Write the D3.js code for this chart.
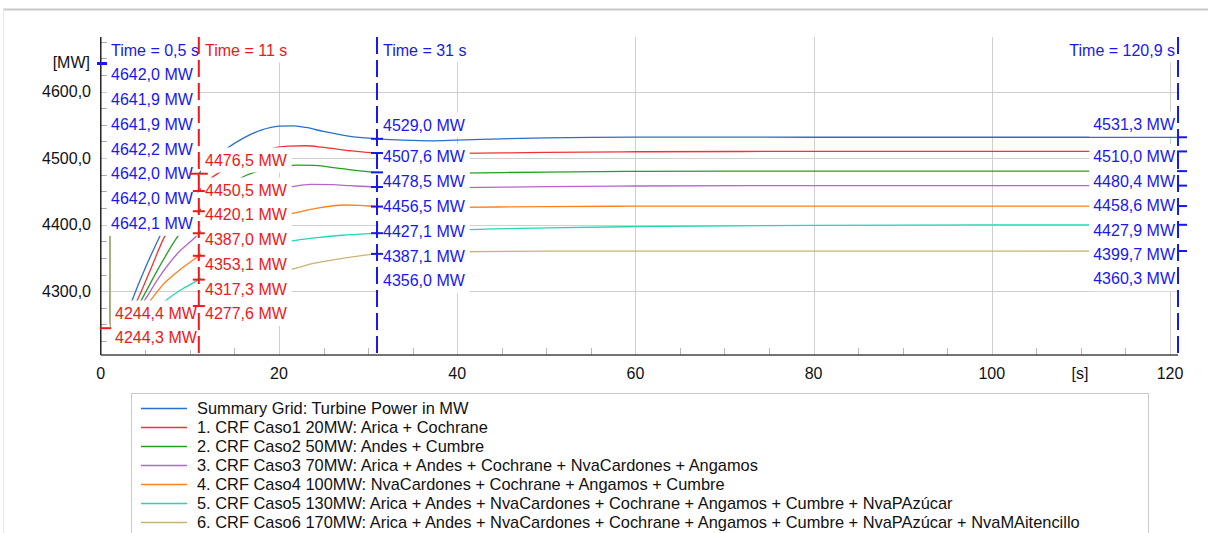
<!DOCTYPE html>
<html><head><meta charset="utf-8">
<script src="https://cdn.jsdelivr.net/npm/d3@7"></script>
<style>
body{margin:0;background:#fff;}
text{font-family:"Liberation Sans",Arial,sans-serif;font-size:16px;}
text.leg{font-size:16.4px;}
</style>
</head><body><svg id="c" width="1208" height="533"></svg>
<script>
// ---------- DATA ----------
const seriesNames = [
  "Summary Grid: Turbine Power in MW",
  "1. CRF Caso1 20MW: Arica + Cochrane",
  "2. CRF Caso2 50MW: Andes + Cumbre",
  "3. CRF Caso3 70MW: Arica + Andes + Cochrane + NvaCardones + Angamos",
  "4. CRF Caso4 100MW: NvaCardones + Cochrane + Angamos + Cumbre",
  "5. CRF Caso5 130MW: Arica + Andes + NvaCardones + Cochrane + Angamos + Cumbre + NvaPAzúcar",
  "6. CRF Caso6 170MW: Arica + Andes + NvaCardones + Cochrane + Angamos + Cumbre + NvaPAzúcar + NvaMAitencillo"
];
const seriesColors = ["#2a6fc9","#ee3535","#22a022","#b565cc","#ff8020","#28d4b4","#c8b476"];

const sGrid = [[0,4642.0],[1.0,4642.0],[1.05,4244.4],[2,4250],[3,4268],[3.45,4284],[5,4335],[6.64,4383],[8,4420],[9.5,4452],[11,4476.5],[12.5,4499],[14.3,4516],[16,4530],[18,4542],[20,4548],[21.5,4548.5],[23,4546],[25,4540],[27,4535],[29,4531],[31,4529.0],[34,4527],[37,4526],[40,4527],[45,4529],[50,4530.5],[55,4531.2],[60,4531.5],[80,4531.3],[100,4531.3],[120.9,4531.3]];
const sCaso1 = [[0,4641.9],[1.0,4641.9],[1.05,4244.3],[2,4248],[3,4262],[4,4284],[5.5,4330],[7.2,4383],[9,4420],[11,4450.5],[12.5,4471],[13.4,4479],[15,4492],[17,4505],[19,4514],[21,4518],[23,4518.5],[25,4516],[28,4511],[31,4507.6],[35,4506.5],[40,4507],[50,4508.5],[60,4509.5],[80,4510.0],[120.9,4510.0]];
const sCaso2 = [[0,4641.9],[1.0,4641.9],[1.05,4244.3],[2,4247],[3.5,4262],[4.45,4284],[6.5,4335],[8.67,4383],[11,4420.1],[13,4445],[15,4464],[16,4472],[17.6,4480],[19.5,4486],[22,4489.5],[24,4489],[27,4484],[31,4478.5],[35,4477],[40,4477.5],[50,4479],[60,4480],[80,4480.4],[120.9,4480.4]];
const sCaso3 = [[0,4642.2],[1.0,4642.2],[1.05,4244.3],[2.5,4250],[4,4270],[4.8,4284],[6.5,4320],[8.5,4355],[10.8,4384],[11,4387.0],[13,4410],[15,4428],[17,4442],[19,4451],[21.5,4457],[23.5,4460.5],[26,4460],[28,4458.5],[31,4456.5],[35,4455],[40,4455.5],[50,4457],[60,4458],[80,4458.6],[120.9,4458.6]];
const sCaso4 = [[0,4642.0],[1.0,4642.0],[1.05,4244.3],[3,4252],[4.5,4270],[5.45,4284],[7,4310],[8.5,4328],[11,4353.1],[13,4373],[15,4390],[17,4402],[19,4411],[21.5,4417],[24,4424],[27.4,4429.5],[29,4429],[31,4427.1],[35,4425.5],[40,4426],[50,4427],[60,4427.7],[80,4427.9],[120.9,4427.9]];
const sCaso5 = [[0,4642.0],[1.0,4642.0],[1.05,4244.3],[3,4248],[5,4260],[7.1,4284],[9,4302],[11,4317.3],[13,4335],[15,4348],[17,4360],[19,4368],[21.5,4375.6],[24,4380],[27,4384],[31,4387.1],[35,4389.5],[40,4392],[50,4395],[60,4397],[80,4398.8],[100,4399.5],[120.9,4399.7]];
const sCaso6 = [[0,4642.1],[1.0,4642.1],[1.05,4244.3],[3,4246],[5,4252],[7,4260],[9,4269],[11,4277.6],[13,4293],[15,4305],[17,4316],[19,4325],[21.5,4333],[24,4342],[27,4349],[31,4356.0],[35,4358],[40,4359.2],[50,4360],[120.9,4360.3]];
const allSeries = [sGrid,sCaso1,sCaso2,sCaso3,sCaso4,sCaso5,sCaso6];

const cursorTimes = [0.5, 11, 31, 120.9];
const cursorColors = ["#1818f0","#f01818","#1818f0","#1818f0"];
const valuesAt05 = [4642.0,4641.9,4641.9,4642.2,4642.0,4642.0,4642.1];
const valuesAt11 = [4476.5,4450.5,4420.1,4387.0,4353.1,4317.3,4277.6];
const valuesAt31 = [4529.0,4507.6,4478.5,4456.5,4427.1,4387.1,4356.0];
const valuesAtEnd = [4531.3,4510.0,4480.4,4458.6,4427.9,4399.7,4360.3];
const minValues = [4244.4, 4244.3];

const xTicks = [0,20,40,60,80,100,120];
const yTicks = [4300,4400,4500,4600];
const xDomain = [0,120.9];
const yDomain = [4204,4682];

// ---------- DRAW ----------
const svg = d3.select("#c");
const X0=100.8, X1=1178, YT=37, YB=355;
const x = d3.scaleLinear().domain(xDomain).range([X0,X1]);
const y = d3.scaleLinear().domain(yDomain).range([YB,YT]);
const fmt = v => d3.format(".1f")(v).replace(".",",");
const fmtT = t => String(t).replace(".",",");

// outer frame
svg.append("line").attr("x1",3).attr("x2",1208).attr("y1",9.5).attr("y2",9.5).attr("stroke","#c8c8c8").attr("stroke-width",2);
svg.append("line").attr("x1",3.5).attr("x2",3.5).attr("y1",9).attr("y2",533).attr("stroke","#e6e6e6").attr("stroke-width",1);

// grid
const grid = svg.append("g");
grid.selectAll(".gx").data(xTicks.filter(t=>t>0)).join("line")
  .attr("x1",d=>Math.round(x(d))+0.5).attr("x2",d=>Math.round(x(d))+0.5).attr("y1",YT).attr("y2",YB)
  .attr("stroke","#cfcfcf");
grid.selectAll(".gy").data(yTicks).join("line")
  .attr("x1",X0).attr("x2",X1).attr("y1",d=>Math.round(y(d))+0.5).attr("y2",d=>Math.round(y(d))+0.5)
  .attr("stroke","#cfcfcf");
// minor ticks
const yMinor = d3.range(4225,4700,25).filter(v=>v%100!==0 && v<yDomain[1]);
grid.selectAll(".my").data(yMinor).join("line")
  .attr("x1",X0).attr("x2",X0+6).attr("y1",d=>Math.round(y(d))+0.5).attr("y2",d=>Math.round(y(d))+0.5)
  .attr("stroke","#a8a8a8");
const xMinor = d3.range(5,120,5).filter(v=>v%20!==0);
grid.selectAll(".mx").data(xMinor).join("line")
  .attr("x1",d=>Math.round(x(d))+0.5).attr("x2",d=>Math.round(x(d))+0.5).attr("y1",YB).attr("y2",YB-7)
  .attr("stroke","#b8b8b8");

// series
const line = d3.line().x(d=>x(d[0])).y(d=>y(d[1])).curve(d3.curveMonotoneX);
const lg = svg.append("g");
allSeries.forEach((s,i)=>{
  lg.append("path").attr("d",line(s)).attr("fill","none").attr("stroke",seriesColors[i]).attr("stroke-width",1.3);
});

// labels (white boxes + text)
const labelLayer = svg.append("g");
const boxLayer = labelLayer.append("g");
const textLayer = labelLayer.append("g");
function label(tx, cy, str, color, anchor){
  const t = textLayer.append("text").attr("x",tx).attr("y",cy).attr("dy","0.36em")
    .attr("fill",color).attr("text-anchor",anchor||"start").text(str);
  const b = t.node().getBBox();
  boxLayer.append("rect").attr("x",b.x-4).attr("y",cy-12.5).attr("width",b.width+8).attr("height",25).attr("fill","#fff");
}
const columns = [
  {vals:valuesAt05, tx:111, anchor:"start", timeY:50, ys: valuesAt05.map((v,i)=>74.5+i*24.8)},
  {vals:valuesAt11, tx:205, anchor:"start", timeY:50, ys: valuesAt11.map((v,i)=>i===0?160:190+(i-1)*24.7)},
  {vals:valuesAt31, tx:383, anchor:"start", timeY:50, ys: valuesAt31.map((v,i)=>i===0?125:156.7+(i-1)*24.8)},
  {vals:valuesAtEnd, tx:1175, anchor:"end", timeY:50, ys: valuesAtEnd.map((v,i)=>i===0?124:156.7+(i-1)*24.4)}
];
columns.forEach((c,k)=>{
  label(c.tx, c.timeY, "Time = "+fmtT(cursorTimes[k])+" s", cursorColors[k], c.anchor);
  c.vals.forEach((v,i)=>label(c.tx, c.ys[i], fmt(v)+" MW", cursorColors[k], c.anchor));
});
minValues.forEach((v,i)=>label(115, 313+i*24.5, fmt(v)+" MW", "#f01818"));

// axes
svg.append("line").attr("x1",X0).attr("x2",X0).attr("y1",YT).attr("y2",YB).attr("stroke","#000").attr("stroke-width",1.3);
svg.append("line").attr("x1",X0).attr("x2",X1).attr("y1",YB).attr("y2",YB).attr("stroke","#444").attr("stroke-width",1.6);
svg.selectAll(".yl").data(yTicks).join("text")
  .attr("x",91).attr("y",d=>y(d)).attr("dy","0.36em").attr("text-anchor","end").attr("fill","#111").text(d=>fmt(d));
svg.append("text").attr("x",90).attr("y",62).attr("dy","0.36em").attr("text-anchor","end").attr("fill","#111").text("[MW]");
svg.selectAll(".xl").data(xTicks).join("text")
  .attr("x",d=>x(d)).attr("y",373).attr("dy","0.36em").attr("text-anchor","middle").attr("fill","#111").text(d=>d);
svg.append("text").attr("x",1080).attr("y",373).attr("dy","0.36em").attr("text-anchor","middle").attr("fill","#111").text("[s]");

// cursors
const cg = svg.append("g");
cursorTimes.forEach((t,k)=>{
  if(k===0) return;
  cg.append("line").attr("x1",x(t)).attr("x2",x(t)).attr("y1",YT).attr("y2",YB)
    .attr("stroke",cursorColors[k]).attr("stroke-width",2).attr("stroke-dasharray","17,6");
});
columns.forEach((c,k)=>{
  const cx = x(cursorTimes[k]);
  c.vals.forEach((v,i)=>{
    let a = cx-6, b = cx+6;
    if(k===0){a=97;b=107;}
    if(k===3){a=cx-1;b=cx+9;}
    if(k===1 && i===0){a=cx-9;b=cx+9;}
    cg.append("line").attr("x1",a).attr("x2",b).attr("y1",y(v)).attr("y2",y(v))
      .attr("stroke",cursorColors[k]).attr("stroke-width",2);
  });
});
cg.append("line").attr("x1",X0-1).attr("x2",x(1.05)+1).attr("y1",y(minValues[1])).attr("y2",y(minValues[1]))
  .attr("stroke","#f01818").attr("stroke-width",2);

// legend
const leg = svg.append("g");
leg.append("rect").attr("x",131.5).attr("y",393.5).attr("width",1017).attr("height",160)
  .attr("fill","#fff").attr("stroke","#c8c8c8");
seriesNames.forEach((n,i)=>{
  const cy = 408+i*19;
  leg.append("line").attr("x1",141).attr("x2",187).attr("y1",cy+0.5).attr("y2",cy+0.5)
    .attr("stroke",seriesColors[i]).attr("stroke-width",1.3);
  leg.append("text").attr("class","leg").attr("x",197).attr("y",cy).attr("dy","0.36em").attr("fill","#111").text(n);
});
</script>
</body></html>
